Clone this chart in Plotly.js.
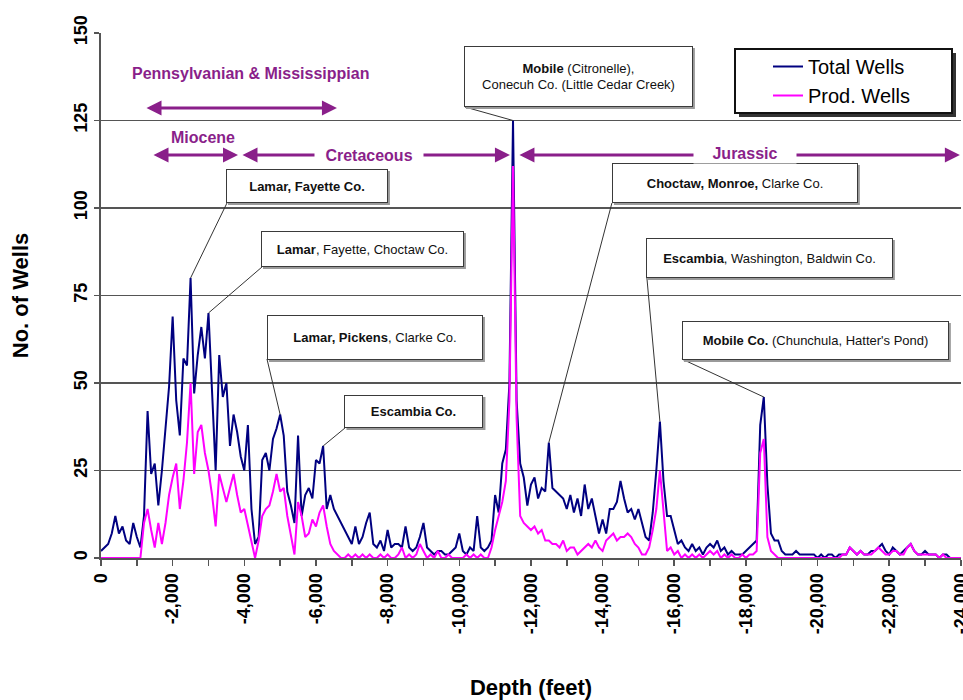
<!DOCTYPE html>
<html>
<head>
<meta charset="utf-8">
<script src="https://cdn.plot.ly/plotly-3.0.1.min.js"></script>
<style>html,body{margin:0;padding:0;background:#fff;}#chart{width:963px;height:700px;}</style>
</head>
<body>
<div id="chart"></div>
<script>
// Depth (feet), sampled every 100 ft
const depth = [
0,-100,-200,-300,-400,-500,-600,-700,-800,-900,
-1000,-1100,-1200,-1300,-1400,-1500,-1600,-1700,-1800,-1900,
-2000,-2100,-2200,-2300,-2400,-2500,-2600,-2700,-2800,-2900,
-3000,-3100,-3200,-3300,-3400,-3500,-3600,-3700,-3800,-3900,
-4000,-4100,-4200,-4300,-4400,-4500,-4600,-4700,-4800,-4900,
-5000,-5100,-5200,-5300,-5400,-5500,-5600,-5700,-5800,-5900,
-6000,-6100,-6200,-6300,-6400,-6500,-6600,-6700,-6800,-6900,
-7000,-7100,-7200,-7300,-7400,-7500,-7600,-7700,-7800,-7900,
-8000,-8100,-8200,-8300,-8400,-8500,-8600,-8700,-8800,-8900,
-9000,-9100,-9200,-9300,-9400,-9500,-9600,-9700,-9800,-9900,
-10000,-10100,-10200,-10300,-10400,-10500,-10600,-10700,-10800,-10900,
-11000,-11100,-11200,-11300,-11400,-11500,-11600,-11700,-11800,-11900,
-12000,-12100,-12200,-12300,-12400,-12500,-12600,-12700,-12800,-12900,
-13000,-13100,-13200,-13300,-13400,-13500,-13600,-13700,-13800,-13900,
-14000,-14100,-14200,-14300,-14400,-14500,-14600,-14700,-14800,-14900,
-15000,-15100,-15200,-15300,-15400,-15500,-15600,-15700,-15800,-15900,
-16000,-16100,-16200,-16300,-16400,-16500,-16600,-16700,-16800,-16900,
-17000,-17100,-17200,-17300,-17400,-17500,-17600,-17700,-17800,-17900,
-18000,-18100,-18200,-18300,-18400,-18500,-18600,-18700,-18800,-18900,
-19000,-19100,-19200,-19300,-19400,-19500,-19600,-19700,-19800,-19900,
-20000,-20100,-20200,-20300,-20400,-20500,-20600,-20700,-20800,-20900,
-21000,-21100,-21200,-21300,-21400,-21500,-21600,-21700,-21800,-21900,
-22000,-22100,-22200,-22300,-22400,-22500,-22600,-22700,-22800,-22900,
-23000,-23100,-23200,-23300,-23400,-23500,-23600,-23700,-23800,-23900,
-24000
];

const totalWells = [
2,3,4,7,12,7,9,5,4,10,
6,3,12,42,24,27,15,25,38,49,
69,45,35,57,55,80,47,58,66,57,
70,45,25,58,46,50,32,41,36,29,
25,38,14,4,6,28,30,25,34,37,
41,35,19,15,10,35,12,18,20,17,
28,27,32,14,18,14,12,10,8,6,
4,9,4,6,10,13,4,3,5,2,
8,3,4,4,3,9,3,2,3,6,
10,3,2,1,2,2,1,1,2,3,
7,2,1,3,2,12,3,2,3,5,
18,13,27,31,50,125,45,27,23,15,
21,23,17,20,19,33,20,19,18,17,
14,18,13,17,12,21,14,17,12,7,
11,7,14,14,16,22,17,13,14,11,
14,10,6,5,13,25,39,22,12,12,
8,4,5,3,2,4,2,3,1,3,
4,3,5,2,3,1,2,1,1,1,
2,3,4,5,38,46,21,7,5,5,
2,1,1,1,2,1,1,1,1,1,
0,1,0,1,1,0,1,1,1,3,
2,1,2,1,1,2,2,3,4,2,
1,3,2,1,2,3,4,2,1,1,
2,1,1,1,0,1,1,0,0,0,
0
];

const prodWells = [
0,0,0,0,0,0,0,0,0,0,
0,0,10,14,8,3,10,4,10,18,
23,27,14,22,33,50,24,36,38,30,
25,18,9,24,20,16,20,24,18,13,
14,9,4,0,5,12,14,15,19,24,
19,20,12,6,1,16,12,6,7,11,
9,13,15,9,4,2,1,0,0,1,
0,1,0,1,0,1,0,0,1,0,
1,0,0,1,3,0,1,0,1,4,
2,0,1,0,2,0,0,1,0,0,
0,0,1,0,1,0,1,0,0,3,
8,12,16,22,45,112,40,12,10,9,
8,9,7,8,5,5,4,4,3,5,
2,3,3,1,2,3,4,3,5,3,
2,5,6,7,5,6,6,7,6,4,
3,1,1,3,8,14,25,14,2,3,
1,2,0,1,0,1,0,1,0,1,
2,1,2,0,1,0,1,0,0,1,
0,1,1,2,30,34,6,2,1,0,
0,0,0,0,0,0,0,0,0,0,
0,0,0,0,0,0,0,1,1,3,
2,1,2,1,1,1,2,3,2,1,
1,2,2,1,1,3,4,2,1,1,
1,1,1,1,0,1,0,0,0,0,
0
];

const xTickVals = [0,-1000,-2000,-3000,-4000,-5000,-6000,-7000,-8000,-9000,-10000,-11000,-12000,
  -13000,-14000,-15000,-16000,-17000,-18000,-19000,-20000,-21000,-22000,-23000,-24000];
const xTickText = ['0','','-2,000','','-4,000','','-6,000','','-8,000','','-10,000','','-12,000',
  '','-14,000','','-16,000','','-18,000','','-20,000','','-22,000','','-24,000'];
const yTickVals = [0,25,50,75,100,125,150];

const seriesNames = ['Total Wells','Prod. Wells'];

// Callouts: text and index of the data point they point at (on Total Wells)
const calloutTexts = [
  '<b>Lamar, Fayette Co.</b>',
  '<b>Lamar</b>, Fayette, Choctaw Co.',
  '<b>Lamar, Pickens</b>, Clarke Co.',
  '<b>Escambia Co.</b>',
  '<b>Mobile</b> (Citronelle),<br>Conecuh Co. (Little Cedar Creek)',
  '<b>Choctaw, Monroe,</b> Clarke Co.',
  '<b>Escambia</b>, Washington, Baldwin Co.',
  '<b>Mobile Co.</b> (Chunchula, Hatter\'s Pond)'
];
const calloutIdx = [25, 30, 50, 62, 115, 125, 156, 185];

const periodNames = ['Pennsylvanian & Mississippian','Miocene','Cretaceous','Jurassic'];

// ---- layout helpers (pixel -> data/paper) ----
const L = 101, R = 961, T = 33, B = 558;
const X = px => -(px - L) / (R - L) * 24000;
const Y = py => (B - py) / (B - T) * 150;
const PX = px => (px - L) / (R - L);
const PY = py => (B - py) / (B - T);

const FONT = 'Liberation Sans, Arial, sans-serif';
const PURPLE = '#8a1f8a';

// callout box geometry in pixels: [cx, cy, w, h, cornerX, cornerY]
const boxes = [
  [307, 186, 162, 34, 227, 203],
  [362.5, 249, 203, 36, 262, 267],
  [375, 337.5, 216, 45, 267, 359],
  [414, 411.5, 139, 33, 345, 428],
  [578.5, 76.5, 229, 61, 465, 107],
  [735, 183, 246, 40, 612, 203],
  [769.5, 258, 247, 40, 647, 278],
  [815.5, 340.5, 267, 39, 682, 359]
];

const annotations = [];
const shapes = [];

boxes.forEach((b, k) => {
  const i = calloutIdx[k];
  shapes.push({type:'line', xref:'x', yref:'y', layer:'above',
    x0: X(b[4]), y0: Y(b[5]), x1: depth[i], y1: totalWells[i],
    line:{color:'#333', width:1}});
  // soft shadow on bottom/right edges
  shapes.push({type:'rect', xref:'x', yref:'y', layer:'above',
    x0: X(b[0] - b[2]/2 + 2), x1: X(b[0] + b[2]/2 + 2),
    y0: Y(b[1] + b[3]/2 + 2), y1: Y(b[1] - b[3]/2 + 2),
    fillcolor:'#9a9a9a', line:{width:0}});
  annotations.push({xref:'x', yref:'y', x: X(b[0]), y: Y(b[1]), showarrow:false,
    text: calloutTexts[k], width: b[2]-4, height: b[3]-4, align:'center', valign:'middle',
    bgcolor:'#ffffff', bordercolor:'#3a3a3a', borderwidth:1, borderpad:1,
    font:{family:FONT, size:13, color:'#111'}});
});

// Period arrows: [x1px, x2px, ypx]
const arrows = [[145, 337, 108],[152, 238, 155],[241, 510, 155],[518, 960, 155]];
arrows.forEach(a => {
  annotations.push({xref:'x', yref:'y', axref:'x', ayref:'y',
    x: X(a[1]), y: Y(a[2]), ax: X(a[0]), ay: Y(a[2]), text:'', showarrow:true,
    arrowhead:2, startarrowhead:2, arrowside:'end+start', arrowsize:1, startarrowsize:1,
    arrowwidth:3, arrowcolor:PURPLE});
});
// Period labels: [cx, cy, boxwidth|null]
const periodPos = [[251, 73, null],[203, 137, null],[369, 155, 106],[745, 153, 100]];
periodPos.forEach((p, k) => {
  const ann = {xref:'x', yref:'y', x: X(p[0]), y: Y(p[1]), showarrow:false,
    text: periodNames[k], font:{family:FONT, size:16, color:PURPLE, weight:'bold'}};
  if (p[2]) { ann.bgcolor = '#ffffff'; ann.width = p[2]; }
  annotations.push(ann);
});

// Legend box with shadow
shapes.push({type:'rect', xref:'paper', yref:'paper', layer:'above',
  x0: PX(739), x1: PX(956), y0: PY(117), y1: PY(53), fillcolor:'#333', line:{width:0}});
shapes.push({type:'rect', xref:'paper', yref:'paper', layer:'above',
  x0: PX(735), x1: PX(952), y0: PY(113), y1: PY(49), fillcolor:'#ffffff',
  line:{color:'#111', width:2}});

const traces = [
  {x: depth, y: totalWells, type:'scatter', mode:'lines', name: seriesNames[0],
   line:{color:'#000080', width:2}},
  {x: depth, y: prodWells, type:'scatter', mode:'lines', name: seriesNames[1],
   line:{color:'#ff00ff', width:2}}
];

const layout = {
  width: 963, height: 700,
  margin: {l: L, r: 963 - R, t: T, b: 700 - B},
  paper_bgcolor:'#ffffff', plot_bgcolor:'#ffffff',
  showlegend: true,
  legend: {x: PX(768), y: PY(47), xanchor:'left', yanchor:'top',
    bgcolor:'rgba(0,0,0,0)', borderwidth:0,
    font:{family:FONT, size:20, color:'#000'}},
  xaxis: {
    range:[0,-24004], tickmode:'array', tickvals:xTickVals, ticktext:xTickText,
    tickangle:-90, ticks:'outside', ticklen:6, tickwidth:1.5, tickcolor:'#555',
    ticklabeloverflow:'allow',
    showline:true, linecolor:'#555', linewidth:2, showgrid:false, zeroline:false,
    tickfont:{family:FONT, size:18, color:'#000', weight:'bold'},
    title:{text:'Depth (feet)', standoff:48, font:{family:FONT, size:22, color:'#000', weight:'bold'}}
  },
  yaxis: {
    range:[0,150], tickmode:'array', tickvals:yTickVals,
    tickangle:-90, ticks:'outside', ticklen:5, tickwidth:1.5, tickcolor:'#555',
    showline:true, linecolor:'#555', linewidth:2, showgrid:true, gridcolor:'#555', gridwidth:1.5,
    zeroline:false,
    tickfont:{family:FONT, size:18, color:'#000', weight:'bold'},
    title:{text:'No. of Wells', standoff:36, font:{family:FONT, size:22, color:'#000', weight:'bold'}}
  },
  annotations: annotations,
  shapes: shapes
};

Plotly.newPlot('chart', traces, layout, {staticPlot:true, displayModeBar:false});
</script>
</body>
</html>
